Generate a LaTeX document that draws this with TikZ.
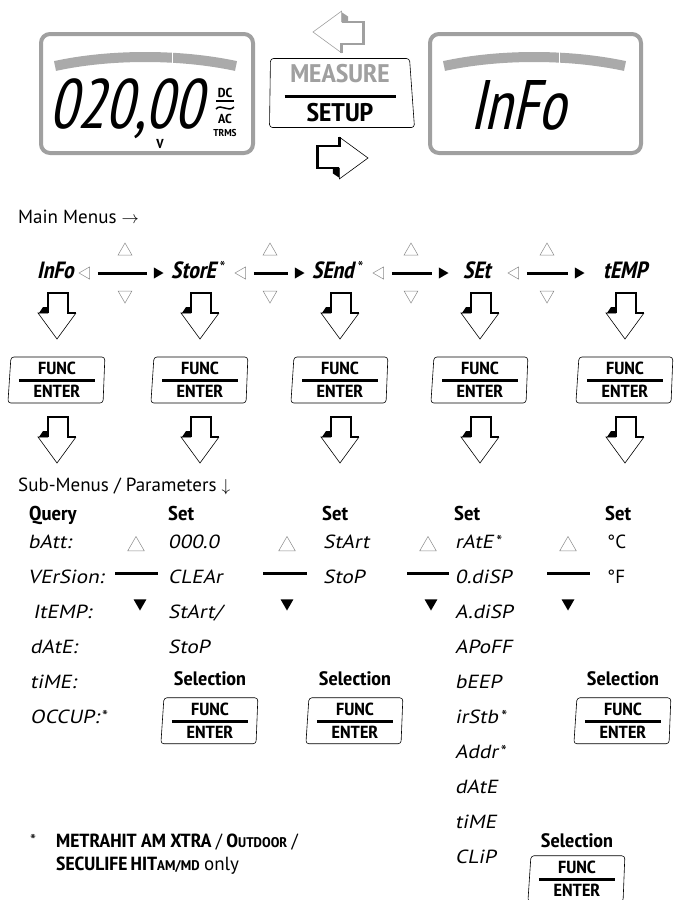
\documentclass[tikz,border=0pt]{standalone}
\usepackage{fontspec}
\usetikzlibrary{positioning,shapes.geometric}
\newfontfamily\narrow{PT Sans Narrow}[AutoFakeSlant=0.2, FakeStretch=1.12]
\newfontfamily\lcdfont{PT Sans Narrow}[FakeSlant=0.22]
\newfontfamily\lcdbig{PT Sans Narrow}[FakeSlant=0.22, FakeStretch=0.9]
\newfontfamily\lcdwide{PT Sans}[FakeSlant=0.2, FakeStretch=1.12]
\newfontfamily\plainsans{PT Sans}
\definecolor{lcdgray}{HTML}{A0A0A0}
\definecolor{trigray}{HTML}{8A8A8A}
\newcommand{\fnstar}[1]{\raisebox{#1}{\plainsans\mdseries\upshape\fontsize{17}{17}\selectfont *}}
\newcommand{\funcenter}{FUNC\\\rule[4pt]{76pt}{3pt}\\[-2pt]ENTER}

\begin{document}
\begin{tikzpicture}
[x=1pt, y=-1pt, node distance=35pt, font=\plainsans\fontsize{19}{22}\selectfont]
\tikzstyle{lcdframe}=[draw=lcdgray, line width=4, rounded corners=9]
\tikzstyle{lcdband}=[draw=lcdgray!90, line width=10]
\tikzstyle{bigdigits}=[font=\lcdbig\fontsize{70}{70}\selectfont, inner sep=0, text depth=0]
\tikzstyle{unitmark}=[font=\narrow\bfseries\fontsize{13}{13}\selectfont, anchor=base, inner sep=0]
\tikzstyle{funckey}=[trapezium, trapezium left angle=85, trapezium right angle=93, trapezium stretches body,
  draw, line width=0.6, rounded corners=3, minimum width=97, minimum height=46, inner sep=0, align=center,
  font=\narrow\bfseries\fontsize{17.5}{11}\selectfont]
\tikzstyle{caption}=[anchor=base west, inner sep=0]
\tikzstyle{mainitem}=[font=\lcdfont\bfseries\fontsize{23.5}{23.5}\selectfont, anchor=base west, inner sep=0]
\tikzstyle{lcditem}=[font=\lcdwide\fontsize{19}{19}\selectfont, anchor=base west, inner sep=0]
\tikzstyle{colhead}=[font=\narrow\bfseries\itshape\fontsize{20}{20}\selectfont, anchor=base west, inner sep=0]
\tikzstyle{seltext}=[font=\narrow\bfseries\fontsize{19.5}{19.5}\selectfont, anchor=base, inner sep=0]
\tikzstyle{menuline}=[line width=3, shorten <=8, shorten >=7]
\tikzstyle{scrollline}=[line width=3]
\tikzstyle{lefttri}=[regular polygon, regular polygon sides=3, shape border rotate=90, draw=trigray, line width=0.5, minimum size=14, inner sep=0]
\tikzstyle{righttri}=[regular polygon, regular polygon sides=3, shape border rotate=-90, fill=black, minimum size=13, inner sep=0]
\tikzstyle{uptri}=[regular polygon, regular polygon sides=3, draw=trigray, line width=0.5, minimum size=16, inner sep=0]
\tikzstyle{dntri}=[uptri, shape border rotate=180]
\tikzstyle{bigup}=[uptri, minimum size=19]
\tikzstyle{bigdn}=[regular polygon, regular polygon sides=3, shape border rotate=180, fill=black, minimum size=15, inner sep=0]
\tikzset{turnarrow/.pic={
  \draw[line width=2.5] (-9,-26) -- (-9,-46) -- (11,-46) -- (11,-26) -- (19,-26);
  \draw[line width=0.6] (19,-26) -- (0,0) -- (-19,-26) -- (-9,-26);
  \fill (-9,-32) -- (-9,-26) -- (-18,-26) -- (-14,-32) -- cycle;}}
\useasboundingbox (0,0) rectangle (674,900);

% displays and mode key
\draw[lcdframe] (41,34) rectangle (253,153);
\draw[lcdband] (55,66) .. controls (110,54) and (180,54) .. (236,66);
\draw[white, line width=0.8] (172,52) -- (172,64);
\node[bigdigits, anchor=west] (digits) at (49,104) {020,00};
\node[unitmark] (dc) at (225,97) {DC};
\draw[line width=1.5] (216,101) -- (234,101);
\draw[line width=1.5] (216,109) .. controls (221,103) and (228,113) .. (234,107);
\node[unitmark] (ac) at (225,123) {AC};
\node[unitmark, font=\narrow\bfseries\fontsize{10}{10}\selectfont] (trms) at (225,136) {TRMS};
\node[unitmark] (volt) at (160,148) {V};

\draw[lcdframe] (430,34) rectangle (641,153);
\draw[lcdband] (444,66) .. controls (499,54) and (569,54) .. (625,66);
\draw[white, line width=0.8] (559,52) -- (559,64);
\node[bigdigits] (infobig) at (518,105) {InFo};

\node[funckey, trapezium left angle=89, trapezium right angle=85, minimum width=145, minimum height=69,
  font=\narrow\bfseries\fontsize{25.5}{15}\selectfont] (mode) at (340,93)
  {\textcolor{lcdgray}{MEASURE}\\\rule{111pt}{3pt}\\[4pt]SETUP};
\pic[lcdgray, rotate=-90, scale=1.1] at (313,32) {turnarrow};
\pic[rotate=90, scale=1.1] at (368,158) {turnarrow};

% main menus
\node[caption] (mainlbl) at (18,223) {Main Menus $\rightarrow$};
\node[mainitem] (m1) at (37,278) {InFo};
\node[mainitem] (m2) at (171,278) {StorE\,\fnstar{5pt}};
\node[mainitem] (m3) at (312,278) {SEnd\,\fnstar{5pt}};
\node[mainitem] (m4) at (463,278) {SEt};
\node[mainitem] (m5) at (603,278) {tEMP};

\node[lefttri] (l1) at (86,273) {};  \node[righttri] (r1) at (157,273) {};
\node[lefttri] (l2) at (242,273) {}; \node[righttri] (r2) at (298,273) {};
\node[lefttri] (l3) at (380,273) {}; \node[righttri] (r3) at (442,273) {};
\node[lefttri] (l4) at (515,273) {}; \node[righttri] (r4) at (578,273) {};
\draw[menuline] (l1) -- (r1);
\draw[menuline] (l2) -- (r2);
\draw[menuline] (l3) -- (r3);
\draw[menuline] (l4) -- (r4);
\node[uptri] (u1) at (125,251) {}; \node[dntri] (d1) at (125,295) {};
\node[uptri] (u2) at (270,251) {}; \node[dntri] (d2) at (270,295) {};
\node[uptri] (u3) at (411,251) {}; \node[dntri] (d3) at (411,295) {};
\node[uptri] (u4) at (547,251) {}; \node[dntri] (d4) at (547,295) {};

\pic at (57,339) {turnarrow};
\pic at (200,339) {turnarrow};
\pic at (340,339) {turnarrow};
\pic at (480,339) {turnarrow};
\pic at (625,339) {turnarrow};

\node[funckey] (k1) at (57,380) {\funcenter};
\node[funckey] (k2) at (200,380) {\funcenter};
\node[funckey] (k3) at (340,380) {\funcenter};
\node[funckey] (k4) at (480,380) {\funcenter};
\node[funckey] (k5) at (625,380) {\funcenter};

\pic at (57,463) {turnarrow};
\pic at (200,463) {turnarrow};
\pic at (340,463) {turnarrow};
\pic at (480,463) {turnarrow};
\pic at (625,463) {turnarrow};

% sub-menus
\node[caption] (sublbl) at (18,491) {Sub-Menus / Parameters $\downarrow$};
\node[colhead] (h1) at (29,520) {Query};
\node[colhead] (h2) at (168,520) {Set};
\node[colhead] (h3) at (322,520) {Set};
\node[colhead] (h4) at (454,520) {Set};
\node[colhead] (h5) at (605,520) {Set};

\node[lcditem] (q1) at (28,548) {bAtt:};
\node[below=of q1.base west, lcditem] (q2) {VErSion:};
\node[lcditem] (q3) at (33,618) {ItEMP:};
\node[lcditem] (q4) at (30,653) {dAtE:};
\node[below=of q4.base west, lcditem] (q5) {tiME:};
\node[below=of q5.base west, lcditem] (q6) {OCCUP:\,\fnstar{1pt}};

\node[lcditem] (p1) at (168,548) {000.0};
\node[below=of p1.base west, lcditem] (p2) {CLEAr};
\node[below=of p2.base west, lcditem] (p3) {StArt/};
\node[below=of p3.base west, lcditem] (p4) {StoP};

\node[lcditem] (r1) at (323,548) {StArt};
\node[below=of r1.base west, lcditem] (r2) {StoP};

\node[lcditem] (t1) at (455,548) {rAtE\,\fnstar{1pt}};
\node[below=of t1.base west, lcditem] (t2) {0.diSP};
\node[below=of t2.base west, lcditem] (t3) {A.diSP};
\node[below=of t3.base west, lcditem] (t4) {APoFF};
\node[below=of t4.base west, lcditem] (t5) {bEEP};
\node[below=of t5.base west, lcditem] (t6) {irStb\,\fnstar{1pt}};
\node[below=of t6.base west, lcditem] (t7) {Addr\,\fnstar{1pt}};
\node[below=of t7.base west, lcditem] (t8) {dAtE};
\node[below=of t8.base west, lcditem] (t9) {tiME};
\node[below=of t9.base west, lcditem] (t10) {CLiP};

\node[caption] (c1) at (607,548) {°C};
\node[below=of c1.base west, caption] (c2) {°F};

\node[bigup] (su1) at (136,546) {};
\coordinate (sl1) at (115,573); \coordinate (sr1) at (158,573);
\draw[scrollline] (sl1) -- (sr1);
\node[bigdn] (sd1) at (140,603) {};
\node[bigup] (su2) at (287,546) {};
\coordinate (sl2) at (263,573); \coordinate (sr2) at (307,573);
\draw[scrollline] (sl2) -- (sr2);
\node[bigdn] (sd2) at (287,603) {};
\node[bigup] (su3) at (428,546) {};
\coordinate (sl3) at (407,573); \coordinate (sr3) at (449,573);
\draw[scrollline] (sl3) -- (sr3);
\node[bigdn] (sd3) at (431,603) {};
\node[bigup] (su4) at (568,546) {};
\coordinate (sl4) at (547,573); \coordinate (sr4) at (590,573);
\draw[scrollline] (sl4) -- (sr4);
\node[bigdn] (sd4) at (568,603) {};

\node[seltext] (s2) at (210,685) {Selection};
\node[funckey, below=12pt of s2] (k6) {\funcenter};
\node[seltext] (s3) at (355,685) {Selection};
\node[funckey, below=12pt of s3] (k7) {\funcenter};
\node[seltext] (s5) at (623,685) {Selection};
\node[funckey, below=12pt of s5] (k8) {\funcenter};
\node[seltext] (s4) at (577,847) {Selection};
\node[funckey, below=8pt of s4] (k9) {\funcenter};

% footnote
\node[caption] (fnmark) at (30,847) {\fnstar{1pt}};
\node[caption, font=\narrow\bfseries\fontsize{19}{19}\selectfont] (fn1) at (56,847)
  {METRAHIT AM XTRA {\mdseries/} O{\fontsize{14}{14}\selectfont UTDOOR} {\mdseries/}};
\node[caption, font=\narrow\bfseries\fontsize{19}{19}\selectfont] (fn2) at (56,870)
  {SECULIFE\,HIT{\fontsize{14}{14}\selectfont AM/MD} {\plainsans\mdseries only}};
\end{tikzpicture}
\end{document}
